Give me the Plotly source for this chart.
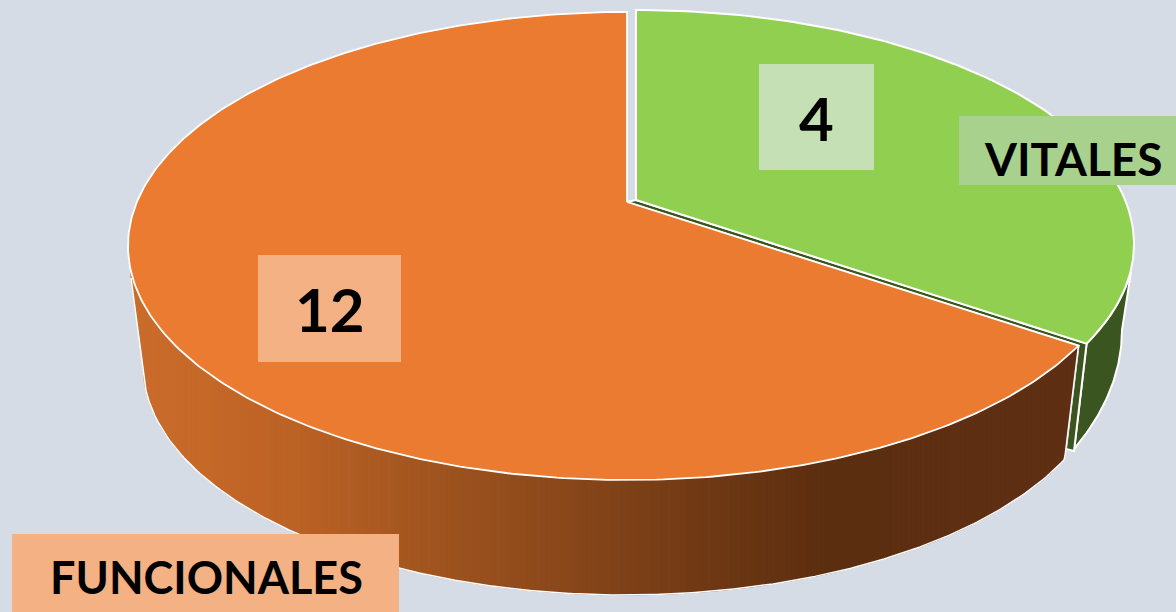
import numpy as np
import plotly.graph_objects as go

categories = ["VITALES", "FUNCIONALES"]
values = [4, 12]
drawn_share_green = 0.32   # share of the ring the green slice occupies in the picture

BG = "#d6dce5"
GREEN, ORANGE = "#91cf50", "#eb7b30"
DARKGREEN = "#3b5520"
W, H = 1176, 612

# top and lower ellipses of each slice: cx, cy, rx, ry
G_TOP = (636, 244, 498, 234)
O_TOP = (627, 246, 499, 234)
G_LOW = (634, 330, 488, 275)
O_LOW = (625, 365, 482, 230)
G_APEX, O_APEX = (636, 200), (627, 202)

def ell(e, t):
    return e[0] + e[2] * np.sin(t), e[1] - e[3] * np.cos(t)

def branch_lower(e, x):
    return e[1] + e[3] * np.sqrt(np.clip(1 - ((x - e[0]) / e[2]) ** 2, 0, 1))

fig = go.Figure()

def poly(xs, ys, fill, line="white", lw=2, close=True):
    xs, ys = list(xs), list(ys)
    if close:
        xs.append(xs[0]); ys.append(ys[0])
    fig.add_trace(go.Scatter(x=xs, y=ys, mode="lines", fill="toself" if fill else None,
                             fillcolor=fill, line=dict(color=line, width=lw),
                             hoverinfo="skip", showlegend=False))

tip_t = 2 * np.pi * drawn_share_green
gx_tip, gy_tip = ell(G_TOP, tip_t)
ox_tip, oy_tip = ell(O_TOP, tip_t)

# green outer wall
gt = np.linspace(tip_t, np.radians(99), 60)
lt = np.linspace(np.radians(90), np.radians(115.6), 50)
lx, ly = ell(G_LOW, lt)
tx, ty = ell(G_TOP, gt)
poly(list(tx) + [1131.0] + list(lx) + [1074],
     list(ty) + [272.0] + list(ly) + [451],
     DARKGREEN)

# green inner wall (thin strip visible beside the orange slice)
poly([G_APEX[0], gx_tip, 1074, 1066, ox_tip, O_APEX[0]],
     [G_APEX[1], gy_tip, 451, 449, oy_tip, O_APEX[1]], DARKGREEN)

# green top
t = np.linspace(0, tip_t, 120)
x, y = ell(G_TOP, t)
poly([G_APEX[0]] + list(x), [G_APEX[1]] + list(y), GREEN)

# orange outer wall as gradient strips
stops_x = [128, 200, 300, 400, 500, 600, 700, 830, 950, 1080]
stops_c = [(203, 109, 44), (198, 105, 41), (187, 98, 37), (167, 88, 33), (149, 78, 29),
           (132, 68, 25), (113, 58, 21), (92, 46, 16), (94, 47, 18), (96, 48, 20)]

def col(xv):
    return "rgb(%d,%d,%d)" % tuple(np.interp(xv, stops_x, [c[i] for c in stops_c]) for i in range(3))

def o_bottom(x):
    x = np.asarray(x, float)
    b = branch_lower(O_LOW, x)
    b = np.where(x < 143, 278 + (x - 131) * (365 - 278) / 12.0, b)
    b = np.where(x > 1065, 456 - (x - 1065) * (456 - oy_tip) / (ox_tip - 1065), b)
    return b

edges = np.arange(131, ox_tip + 5, 5.0)
edges[-1] = ox_tip
for a, b in zip(edges[:-1], edges[1:]):
    xx = np.linspace(a, b, 4)
    poly(list(xx) + list(xx[::-1]),
         list(branch_lower(O_TOP, xx)) + list(o_bottom(xx[::-1])),
         col((a + b) / 2), line=col((a + b) / 2), lw=1)

# white silhouette of the orange wall
xx = np.arange(131, 1066, 3.0)
poly(list(xx) + [1065, ox_tip], list(o_bottom(xx)) + [456, oy_tip], None, lw=1.5, close=False)

# orange top
t = np.linspace(tip_t, 2 * np.pi, 300)
x, y = ell(O_TOP, t)
poly([O_APEX[0]] + list(x), [O_APEX[1]] + list(y), ORANGE, lw=1.8)

# label boxes
boxes = [
    (759, 64, 874, 170, "#c5e0b4", str(values[0]), 816, 118, 60),
    (959, 116, 1176, 185, "#a9d18e", categories[0], 1073, 158, 46),
    (258, 255, 401, 362, "#f4b183", str(values[1]), 330, 309, 60),
    (12, 534, 399, 612, "#f4b183", categories[1], 206, 577, 45),
]
shapes, annos = [], []
for x0, y0, x1, y1, c, txt, tx_, ty_, fs in boxes:
    shapes.append(dict(type="rect", xref="x", yref="y", x0=x0, x1=x1, y0=y0, y1=y1,
                       fillcolor=c, line=dict(width=0)))
    annos.append(dict(x=tx_, y=ty_, xref="x", yref="y", text="<b>%s</b>" % txt, showarrow=False,
                      font=dict(family="Lato", size=fs, color="#000000")))

fig.update_layout(
    width=W, height=H, margin=dict(l=0, r=0, t=0, b=0),
    paper_bgcolor=BG, plot_bgcolor=BG, showlegend=False,
    xaxis=dict(range=[0, W], visible=False, fixedrange=True),
    yaxis=dict(range=[H, 0], visible=False, fixedrange=True),
    shapes=shapes, annotations=annos,
)
fig.write_html("out.html", config=dict(displayModeBar=False, staticPlot=True),
               post_script="document.body.style.margin='0';document.body.style.overflow='hidden';")
